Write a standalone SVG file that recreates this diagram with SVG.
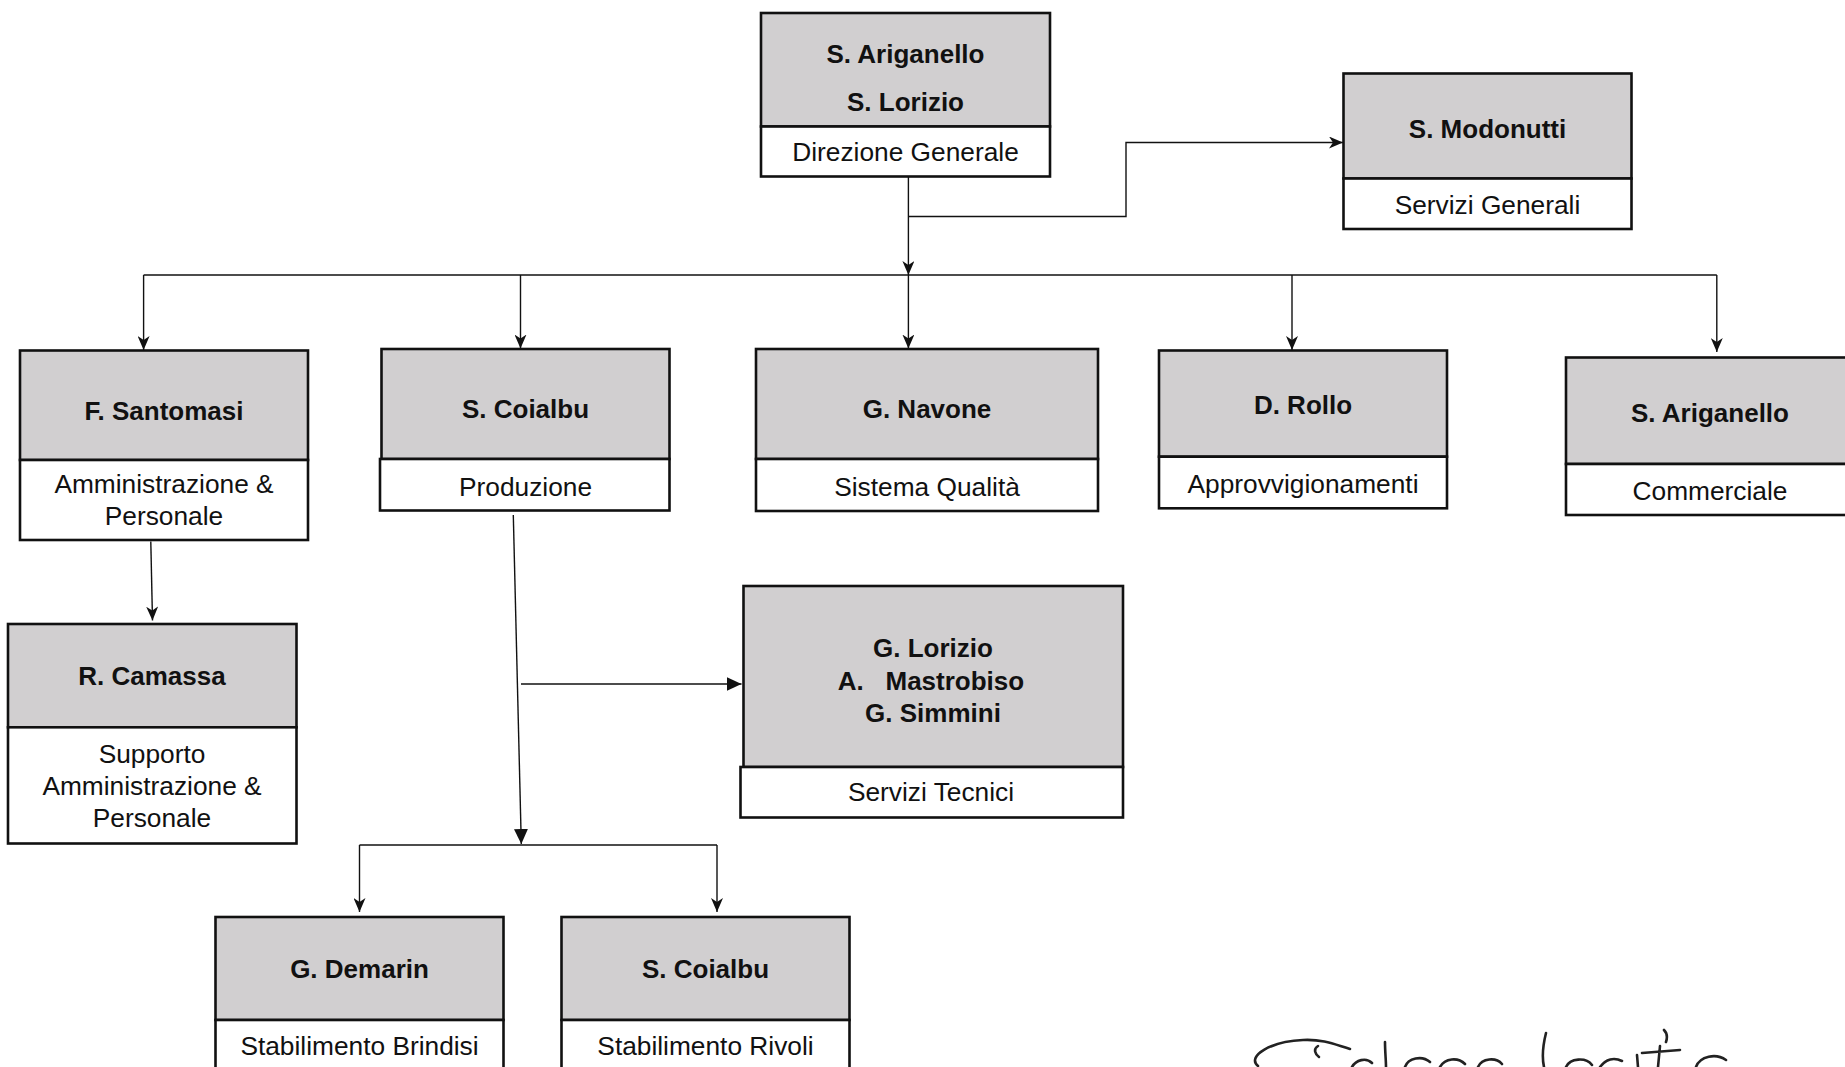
<svg xmlns="http://www.w3.org/2000/svg" width="1845" height="1067" viewBox="0 0 1845 1067">
<style>
.g{fill:#d1cfd0;stroke:#111;stroke-width:2.6}
.w{fill:#fff;stroke:#111;stroke-width:2.6}
.n{font-family:"Liberation Sans",Arial,Helvetica,sans-serif;font-weight:bold;font-size:26px;fill:#111;text-anchor:middle}
.r{font-family:"Liberation Sans",Arial,Helvetica,sans-serif;font-size:26.3px;fill:#111;text-anchor:middle}
.c{fill:none;stroke:#111;stroke-width:1.4}
.sig{fill:none;stroke:#222;stroke-width:2.6;stroke-linecap:round}
</style>
<defs>
<marker id="notch" viewBox="0 0 14 12" refX="14" refY="6" markerWidth="14" markerHeight="12" markerUnits="userSpaceOnUse" orient="auto"><path d="M0,0 L14,6 L0,12 L4,6 Z" fill="#111"/></marker>
<marker id="tri" viewBox="0 0 15 14" refX="15" refY="7" markerWidth="15" markerHeight="14" markerUnits="userSpaceOnUse" orient="auto"><path d="M0,0 L15,7 L0,14 Z" fill="#111"/></marker>
</defs>
<rect width="1845" height="1067" fill="#fff"/>

<g id="connectors">
<path class="c" d="M908.4,176.5 V275" marker-end="url(#notch)"/>
<path class="c" d="M908.4,216.5 H1126 V142.5 H1343" marker-end="url(#notch)"/>
<path class="c" d="M143.6,275 H1716.8"/>
<path class="c" d="M143.6,275 V350" marker-end="url(#notch)"/>
<path class="c" d="M520.5,275 V348.5" marker-end="url(#notch)"/>
<path class="c" d="M908.4,275 V348.5" marker-end="url(#notch)"/>
<path class="c" d="M1292,275 V350" marker-end="url(#notch)"/>
<path class="c" d="M1716.8,275 V352" marker-end="url(#notch)"/>
<path class="c" d="M150.8,541.5 L152.5,620.5" marker-end="url(#notch)"/>
<path class="c" d="M513.3,515 L521.3,844" marker-end="url(#tri)"/>
<path class="c" d="M521,684 H741.5" marker-end="url(#tri)"/>
<path class="c" d="M359.5,845 H717"/>
<path class="c" d="M359.5,845 V912" marker-end="url(#notch)"/>
<path class="c" d="M717,845 V912" marker-end="url(#notch)"/>
</g>

<g id="direzione-generale">
<rect class="g" x="761" y="13" width="289" height="113.5"/>
<rect class="w" x="761" y="126.5" width="289" height="50"/>
<text class="n" x="905.5" y="62.5">S. Ariganello</text>
<text class="n" x="905.5" y="110.5">S. Lorizio</text>
<text class="r" x="905.5" y="161">Direzione Generale</text>
</g>

<g id="servizi-generali">
<rect class="g" x="1343.5" y="73.5" width="288" height="105"/>
<rect class="w" x="1343.5" y="178.5" width="288" height="50.5"/>
<text class="n" x="1487.5" y="137.5">S. Modonutti</text>
<text class="r" x="1487.5" y="214">Servizi Generali</text>
</g>

<g id="amministrazione">
<rect class="g" x="20" y="350.5" width="288" height="109.5"/>
<rect class="w" x="20" y="460" width="288" height="80"/>
<text class="n" x="164" y="420">F. Santomasi</text>
<text class="r" x="164" y="493">Amministrazione &amp;</text>
<text class="r" x="164" y="525">Personale</text>
</g>

<g id="produzione">
<rect class="g" x="381.5" y="349" width="288" height="110"/>
<rect class="w" x="380" y="459" width="289.5" height="51.5"/>
<text class="n" x="525.5" y="417.5">S. Coialbu</text>
<text class="r" x="525.5" y="496">Produzione</text>
</g>

<g id="sistema-qualita">
<rect class="g" x="756" y="349" width="342" height="110"/>
<rect class="w" x="756" y="459" width="342" height="52"/>
<text class="n" x="927" y="417.5">G. Navone</text>
<text class="r" x="927" y="496">Sistema Qualità</text>
</g>

<g id="approvvigionamenti">
<rect class="g" x="1159" y="350.5" width="288" height="106.2"/>
<rect class="w" x="1159" y="456.7" width="288" height="51.6"/>
<text class="n" x="1303" y="414">D. Rollo</text>
<text class="r" x="1303" y="493">Approvvigionamenti</text>
</g>

<g id="commerciale">
<rect class="g" x="1566" y="357.5" width="288" height="106.5"/>
<rect class="w" x="1566" y="464" width="288" height="51"/>
<text class="n" x="1710" y="422">S. Ariganello</text>
<text class="r" x="1710" y="500">Commerciale</text>
</g>

<g id="supporto-amministrazione">
<rect class="g" x="8" y="624" width="288.5" height="103.3"/>
<rect class="w" x="8" y="727.3" width="288.5" height="116.2"/>
<text class="n" x="152" y="684.5">R. Camassa</text>
<text class="r" x="152" y="763">Supporto</text>
<text class="r" x="152" y="795">Amministrazione &amp;</text>
<text class="r" x="152" y="827">Personale</text>
</g>

<g id="servizi-tecnici">
<rect class="g" x="743.5" y="586" width="379.5" height="181"/>
<rect class="w" x="740.5" y="767" width="382.5" height="50.5"/>
<text class="n" x="933" y="657">G. Lorizio</text>
<text class="n" x="931" y="690" style="white-space:pre">A.   Mastrobiso</text>
<text class="n" x="933" y="721.5">G. Simmini</text>
<text class="r" x="931" y="801">Servizi Tecnici</text>
</g>

<g id="stabilimento-brindisi">
<rect class="g" x="215.5" y="917" width="288" height="103"/>
<rect class="w" x="215.5" y="1020" width="288" height="60"/>
<text class="n" x="359.5" y="978">G. Demarin</text>
<text class="r" x="359.5" y="1055">Stabilimento Brindisi</text>
</g>

<g id="stabilimento-rivoli">
<rect class="g" x="561.5" y="917" width="288" height="103"/>
<rect class="w" x="561.5" y="1020" width="288" height="60"/>
<text class="n" x="705.5" y="978">S. Coialbu</text>
<text class="r" x="705.5" y="1055">Stabilimento Rivoli</text>
</g>

<g id="signature">
<path class="sig" d="M1258,1066 C1246,1056 1272,1041 1303,1040 C1324,1039 1336,1045 1350,1049"/>
<path class="sig" d="M1318,1046 C1313,1049 1315,1054 1319,1057"/>
<path class="sig" d="M1352,1067 C1356,1060 1366,1057 1372,1063"/>
<path class="sig" d="M1385,1042 C1385,1052 1386,1060 1386,1067"/>
<path class="sig" d="M1405,1067 C1408,1058 1422,1055 1430,1062 M1440,1067 C1445,1058 1458,1057 1465,1064 M1478,1067 C1482,1058 1496,1057 1502,1064"/>
<path class="sig" d="M1546,1033 C1543,1045 1542,1058 1544,1067"/>
<path class="sig" d="M1566,1067 C1570,1058 1586,1057 1592,1065 M1600,1067 C1606,1059 1614,1057 1622,1061"/>
<path class="sig" d="M1637,1055 L1638,1067 M1664,1030 C1668,1034 1667,1039 1666,1042 M1660,1046 L1658,1067 M1642,1053 L1680,1050"/>
<path class="sig" d="M1696,1067 C1700,1056 1716,1053 1726,1060"/>
</g>
</svg>
